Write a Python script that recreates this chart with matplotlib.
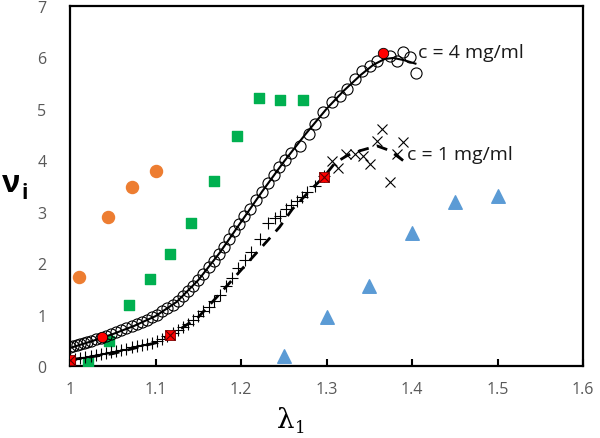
import matplotlib.pyplot as plt

# c = 4 mg/ml : open circles and fitted solid line
c4_x = [1.000, 1.004, 1.008, 1.012, 1.016, 1.020, 1.025, 1.030, 1.036, 1.042,
        1.048, 1.054, 1.060, 1.066, 1.072, 1.078, 1.084, 1.090, 1.096, 1.102,
        1.108, 1.114, 1.120, 1.126, 1.132, 1.138, 1.144, 1.150, 1.156, 1.162,
        1.168, 1.174, 1.180, 1.186, 1.192, 1.198, 1.204, 1.210, 1.217, 1.224,
        1.231, 1.238, 1.245, 1.252, 1.259, 1.269, 1.279, 1.287, 1.296, 1.306,
        1.316, 1.324, 1.333, 1.341, 1.351, 1.359, 1.374, 1.382, 1.390, 1.398,
        1.405]
c4_y = [0.36, 0.38, 0.40, 0.42, 0.44, 0.46, 0.49, 0.52, 0.55, 0.58,
        0.62, 0.66, 0.70, 0.74, 0.78, 0.82, 0.86, 0.90, 0.95, 1.00,
        1.06, 1.12, 1.19, 1.27, 1.36, 1.46, 1.56, 1.67, 1.79, 1.92,
        2.05, 2.18, 2.32, 2.47, 2.62, 2.77, 2.92, 3.05, 3.22, 3.39,
        3.56, 3.72, 3.87, 4.01, 4.14, 4.28, 4.51, 4.70, 4.93, 5.13,
        5.26, 5.39, 5.58, 5.74, 5.84, 5.94, 6.03, 5.94, 6.10, 6.00,
        5.70]
c4_fit_x = [1.000, 1.025, 1.050, 1.075, 1.100, 1.125, 1.150, 1.175, 1.200, 1.225,
            1.250, 1.275, 1.300, 1.320, 1.340, 1.355, 1.368, 1.378, 1.390, 1.404]
c4_fit_y = [0.35, 0.48, 0.62, 0.78, 0.97, 1.25, 1.67, 2.20, 2.80, 3.40,
            3.97, 4.50, 5.00, 5.35, 5.66, 5.86, 5.97, 5.99, 5.95, 5.88]

# c = 1 mg/ml : plus markers, scattered x markers near the peak, dashed fit
c1_x = [1.000, 1.006, 1.012, 1.018, 1.024, 1.030, 1.036, 1.042, 1.048, 1.054,
        1.060, 1.066, 1.072, 1.078, 1.084, 1.090, 1.096, 1.102, 1.108, 1.114,
        1.120, 1.126, 1.132, 1.138, 1.144, 1.150, 1.156, 1.162, 1.168, 1.175,
        1.183, 1.190, 1.197, 1.205, 1.212, 1.222, 1.232, 1.240, 1.246, 1.253,
        1.259, 1.265, 1.271, 1.277, 1.287, 1.297]
c1_y = [0.12, 0.14, 0.16, 0.18, 0.20, 0.22, 0.24, 0.26, 0.28, 0.30,
        0.32, 0.34, 0.36, 0.38, 0.40, 0.42, 0.44, 0.48, 0.53, 0.58,
        0.64, 0.70, 0.76, 0.82, 0.89, 0.97, 1.06, 1.15, 1.26, 1.38,
        1.55, 1.72, 1.90, 2.06, 2.21, 2.47, 2.78, 2.88, 2.92, 3.05,
        3.13, 3.21, 3.29, 3.38, 3.50, 3.70]
c1_peak_x = [1.306, 1.314, 1.323, 1.333, 1.343, 1.351, 1.359, 1.365, 1.374, 1.382, 1.390]
c1_peak_y = [3.99, 3.86, 4.12, 4.12, 4.09, 3.93, 4.38, 4.61, 3.57, 4.12, 4.35]
c1_fit_x = [1.000, 1.050, 1.100, 1.120, 1.150, 1.175, 1.190, 1.210, 1.230, 1.245,
            1.260, 1.280, 1.297, 1.310, 1.325, 1.340, 1.359, 1.374, 1.390]
c1_fit_y = [0.12, 0.24, 0.45, 0.62, 0.95, 1.40, 1.68, 2.05, 2.42, 2.70,
            3.05, 3.40, 3.68, 3.95, 4.10, 4.19, 4.28, 4.19, 3.99]

# highlighted points
red_circ_x = [1.037, 1.366]
red_circ_y = [0.57, 6.08]
red_sq_x = [1.000, 1.117, 1.297]
red_sq_y = [0.12, 0.61, 3.68]

# other data sets
orange_x = [1.010, 1.045, 1.073, 1.100]
orange_y = [1.74, 2.89, 3.49, 3.79]
green_x = [1.021, 1.046, 1.069, 1.093, 1.117, 1.142, 1.168, 1.195, 1.221, 1.246, 1.272]
green_y = [0.07, 0.48, 1.19, 1.70, 2.17, 2.79, 3.60, 4.48, 5.21, 5.17, 5.17]
blue_x = [1.25, 1.30, 1.35, 1.40, 1.45, 1.50]
blue_y = [0.20, 0.95, 1.56, 2.58, 3.18, 3.31]

xticks = [1, 1.1, 1.2, 1.3, 1.4, 1.5, 1.6]
xtick_labels = ["1", "1.1", "1.2", "1.3", "1.4", "1.5", "1.6"]
yticks = [0, 1, 2, 3, 4, 5, 6, 7]

plt.rcParams['font.family'] = ['Open Sans', 'DejaVu Sans']

fig = plt.figure(figsize=(6, 4.39), dpi=100)
ax = fig.add_axes([0.1167, 0.164, 0.855, 0.82])

ax.scatter(orange_x, orange_y, s=75, color="#ED7D31", marker="o", zorder=3)
ax.scatter(green_x, green_y, s=60, color="#00B050", marker="s", zorder=3)
ax.scatter(blue_x, blue_y, s=95, color="#5B9BD5", marker="^", zorder=3)

ax.plot(c4_x, c4_y, linestyle="none", marker="o", markersize=8,
        markerfacecolor="none", markeredgecolor="black", markeredgewidth=0.8, zorder=4)
ax.plot(c4_fit_x, c4_fit_y, color="black", linewidth=1.5, zorder=5)

ax.plot(c1_x, c1_y, linestyle="none", marker="+", markersize=8.5,
        color="black", markeredgewidth=0.8, zorder=4)
ax.plot(c1_peak_x, c1_peak_y, linestyle="none", marker="x", markersize=7,
        color="black", markeredgewidth=0.8, zorder=4)
ax.plot(c1_fit_x, c1_fit_y, color="black", linewidth=2, linestyle=(0, (4, 3)), zorder=5)

ax.plot(red_circ_x, red_circ_y, linestyle="none", marker="o", markersize=7.5,
        markerfacecolor="red", markeredgecolor="black", markeredgewidth=0.6, zorder=6)
ax.plot(red_sq_x, red_sq_y, linestyle="none", marker="s", markersize=7.5,
        markerfacecolor="red", markeredgecolor="#800000", markeredgewidth=0.6, zorder=6)
ax.plot(red_sq_x, red_sq_y, linestyle="none", marker="x", markersize=7,
        color="#600000", markeredgewidth=0.8, zorder=7)

ax.text(1.407, 6.1, "c = 4 mg/ml", fontsize=14, va="center", ha="left", color="#1a1a1a")
ax.text(1.394, 4.12, "c = 1 mg/ml", fontsize=14, va="center", ha="left", color="#1a1a1a")

ax.set_xlim(1, 1.6)
ax.set_ylim(0, 7)
ax.set_xticks(xticks)
ax.set_xticklabels(xtick_labels)
ax.set_yticks(yticks)
ax.tick_params(axis="x", direction="in", length=5, width=1.5, pad=11,
               labelsize=11.5, labelcolor="#595959")
ax.tick_params(axis="y", length=0, pad=17, labelsize=11.5, labelcolor="#595959")
for sp in ax.spines.values():
    sp.set_linewidth(1.6)

# axis labels
fig.text(277 / 600, 1 - 428 / 439, "λ", fontsize=20, family=["DejaVu Serif"],
         ha="left", va="baseline")
fig.text(295 / 600, 1 - 433 / 439, "1", fontsize=12, family=["DejaVu Serif"],
         ha="left", va="baseline")
fig.text(2 / 600, 1 - 192 / 439, "ν", fontsize=22, family=["Open Sans", "DejaVu Sans"],
         weight="bold", ha="left", va="baseline")
fig.text(21 / 600, 1 - 199 / 439, "i", fontsize=15, family=["Open Sans", "DejaVu Sans"],
         weight="bold", ha="left", va="baseline")

fig.savefig("out.png", dpi=100)
